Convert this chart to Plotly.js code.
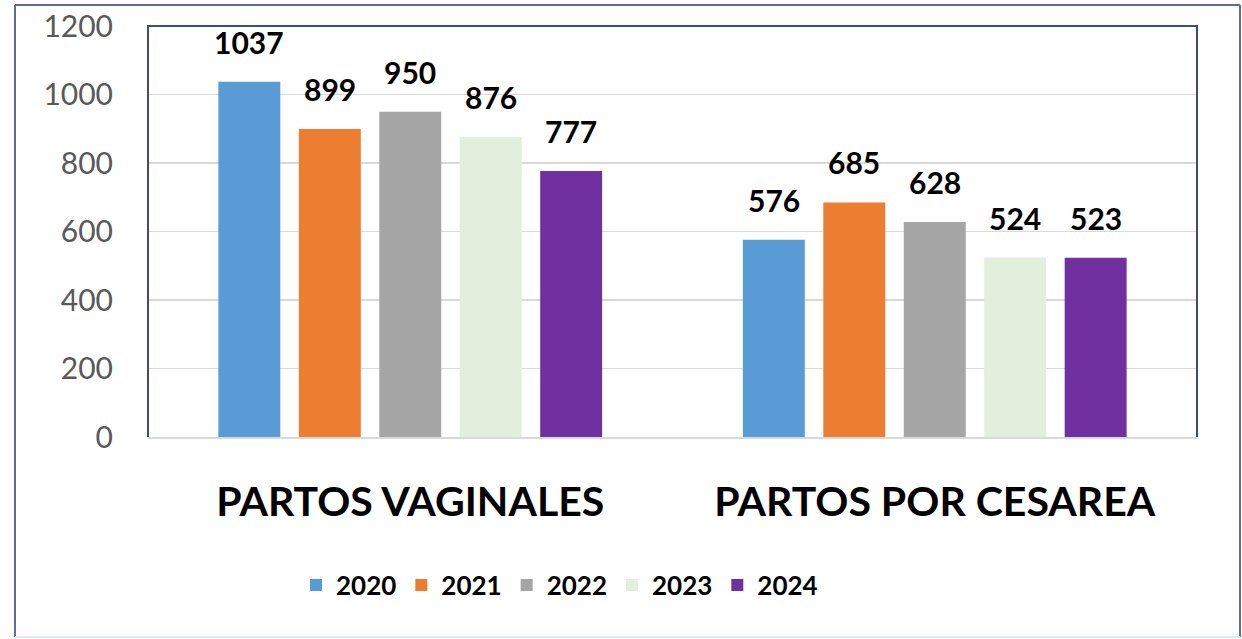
<!DOCTYPE html>
<html><head><meta charset="utf-8">
<script src="https://cdn.plot.ly/plotly-3.0.1.min.js"></script>
<style>html,body{margin:0;padding:0;background:#fff;}#chart{width:1242px;height:639px;}</style>
</head><body><div id="chart"></div>
<script>
const categories = ["PARTOS VAGINALES", "PARTOS POR CESAREA"];
const years = ["2020", "2021", "2022", "2023", "2024"];
const values2020 = [1037, 576];
const values2021 = [899, 685];
const values2022 = [950, 628];
const values2023 = [876, 524];
const values2024 = [777, 523];
const colors = ["#5B9BD5", "#ED7D31", "#A5A5A5", "#E2EFDA", "#7030A0"];
const yTicks = [0, 200, 400, 600, 800, 1000, 1200];

const series = [values2020, values2021, values2022, values2023, values2024];
const W = 1242, H = 639;
const M = {l: 148, r: 45, t: 26, b: 202};
const plotW = W - M.l - M.r, plotH = H - M.t - M.b;
const bargap = 0.233, bargroupgap = 0.23;

const traces = series.map((vals, i) => ({
  type: 'bar', name: years[i], x: categories, y: vals,
  marker: {color: colors[i]}, hoverinfo: 'x+y+name'
}));

// data labels above the bars
const catPx = plotW / categories.length;
const slot = catPx * (1 - bargap) / series.length;
const annotations = [];
series.forEach((vals, i) => {
  vals.forEach((v, j) => {
    annotations.push({
      x: categories[j], y: v, xref: 'x', yref: 'y',
      text: '<b>' + v + '</b>', showarrow: false,
      xshift: (i - (series.length - 1) / 2) * slot,
      yanchor: 'bottom', yshift: 20,
      font: {family: 'Lato, Calibri, sans-serif', size: 30, color: '#000'}
    });
  });
});

const px2x = p => (p - M.l) / plotW;
const px2y = p => (H - M.b - p) / plotH;

const shapes = [
  // outer frame
  {type: 'line', xref: 'paper', yref: 'paper', x0: px2x(15), x1: px2x(15), y0: px2y(5), y1: px2y(637), line: {color: '#5E6F8E', width: 2}},
  {type: 'line', xref: 'paper', yref: 'paper', x0: px2x(15), x1: px2x(1240), y0: px2y(5), y1: px2y(5), line: {color: '#5E6F8E', width: 2}},
  {type: 'line', xref: 'paper', yref: 'paper', x0: px2x(1240), x1: px2x(1240), y0: px2y(5), y1: px2y(637), line: {color: '#5E6F8E', width: 2}},
  {type: 'line', xref: 'paper', yref: 'paper', x0: px2x(15), x1: px2x(1240), y0: px2y(637), y1: px2y(637), line: {color: '#D6ECF7', width: 2}},
  // inner plot frame (left, top, right)
  {type: 'path', xref: 'paper', yref: 'paper', path: 'M 0 0 L 0 1 L 1 1 L 1 0', line: {color: '#3E4A86', width: 2}, layer: 'above'}
];

const layout = {
  width: W, height: H,
  margin: M,
  paper_bgcolor: '#fff', plot_bgcolor: '#fff',
  barmode: 'group', bargap: bargap, bargroupgap: bargroupgap,
  showlegend: true,
  legend: {
    orientation: 'h', x: px2x(296), xanchor: 'left', y: px2y(585), yanchor: 'middle',
    font: {family: 'Lato, Calibri, sans-serif', size: 26, color: '#000', weight: 'bold'},
    itemgap: 10, bgcolor: 'rgba(0,0,0,0)'
  },
  xaxis: {
    type: 'category', range: [-0.5, 1.5],
    tickfont: {family: 'Lato, Calibri, sans-serif', size: 41, color: '#000', weight: 'bold'},
    ticklabelstandoff: 28,
    showline: true, linecolor: '#D9D9D9', linewidth: 2,
    showgrid: false, ticks: '', fixedrange: true
  },
  yaxis: {
    range: [0, 1200], tickvals: yTicks, ticktext: yTicks.map(String),
    tickfont: {family: 'Lato, Calibri, sans-serif', size: 30, color: '#595959'},
    ticklabelstandoff: 34,
    showgrid: true, gridcolor: '#D9D9D9', gridwidth: 1.5,
    zeroline: false, showline: false, ticks: '', fixedrange: true
  },
  annotations: annotations,
  shapes: shapes
};

Plotly.newPlot('chart', traces, layout, {displayModeBar: false, staticPlot: true});
</script></body></html>
